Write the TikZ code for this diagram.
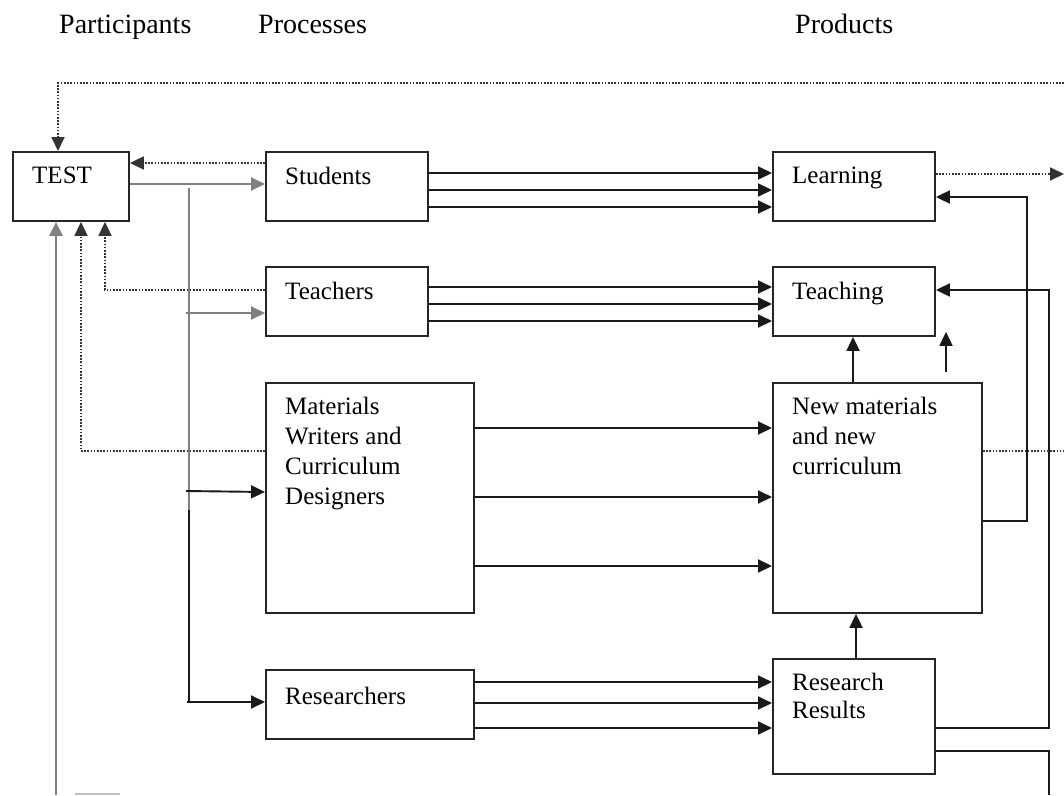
\documentclass[tikz,border=0pt]{standalone}
\usepackage{fontspec}
\setmainfont{Liberation Serif}
\usetikzlibrary{arrows.meta}
\begin{document}
\begin{tikzpicture}[x=1pt,y=-1pt,
  box/.style={draw=black!85, line width=1.9pt, inner sep=0pt, anchor=north west, rectangle},
  txt/.style={anchor=north west, inner sep=0pt, xshift=20pt, yshift=-16pt, align=left,
    font=\fontsize{25}{30}\selectfont},
  hdr/.style={anchor=base west, inner sep=0pt, font=\fontsize{28}{30}\selectfont},
  tip/.style={-{Triangle[length=14pt,width=13pt]}},
  link/.style={tip, line width=1.9pt, draw=black!90},
  greylink/.style={tip, line width=2.1pt, draw=black!50},
  feedback/.style={tip, line width=1.8pt, draw=black!80, dash pattern=on 1.6pt off 1.6pt},
  plain/.style={line width=1.9pt, draw=black!90}
]
\useasboundingbox (0,0) rectangle (1064,795);
\fill[white] (0,0) rectangle (1064,795);

% column headings
\node[hdr] (hpart) at (59,33) {Participants};
\node[hdr] (hproc) at (258,33) {Processes};
\node[hdr] (hprod) at (795,33) {Products};

% participant and product boxes
\node[box, minimum width=116pt, minimum height=69pt, label={[txt]north west:TEST}] (test) at (12,151) {};
\node[box, minimum width=162pt, minimum height=69pt, label={[txt]north west:Students}] (stud) at (265,151) {};
\node[box, minimum width=162pt, minimum height=69pt, label={[txt]north west:Teachers}] (teach) at (265,266) {};
\node[box, minimum width=208pt, minimum height=230pt,
  label={[txt, yshift=1pt]north west:{Materials\\Writers and\\Curriculum\\Designers}}] (mat) at (265,382) {};
\node[box, minimum width=208pt, minimum height=69pt, label={[txt, yshift=-2pt]north west:Researchers}] (res) at (265,669) {};
\node[box, minimum width=162pt, minimum height=69pt, label={[txt]north west:Learning}] (learn) at (772,151) {};
\node[box, minimum width=162pt, minimum height=69pt, label={[txt]north west:Teaching}] (teaching) at (772,266) {};
\node[box, minimum width=209pt, minimum height=230pt,
  label={[txt, yshift=1pt]north west:{New materials\\and new\\curriculum}}] (newmat) at (772,382) {};
\node[box, minimum width=162pt, minimum height=115pt,
  label={[txt, yshift=1pt, font=\fontsize{25}{28}\selectfont]north west:{Research\\Results}}] (rr) at (772,658) {};

% free ends at the picture's border
\coordinate (topR) at (1064,83);
\coordinate (learnR) at (1064,174);
\coordinate (newR) at (1064,451);
\coordinate (rrBot) at (1049,795);
\coordinate (botL) at (56,795);
\coordinate (floatUp) at (946,372);

% processes to products
\foreach \yy in {173,190,207} \draw[link] (stud.east |- 0,\yy) -- (learn.west |- 0,\yy);
\foreach \yy in {287,304,321} \draw[link] (teach.east |- 0,\yy) -- (teaching.west |- 0,\yy);
\foreach \yy in {428,497,566} \draw[link] (mat.east |- 0,\yy) -- (newmat.west |- 0,\yy);
\foreach \yy in {682,703,728} \draw[link] (res.east |- 0,\yy) -- (rr.west |- 0,\yy);

% between the products
\draw[link] (newmat.north -| 853,0) -- (teaching.south -| 853,0);
\draw[link, shorten >=-5pt] (floatUp) -- (teaching.south -| floatUp);
\draw[link] (rr.north -| 856,0) -- (newmat.south -| 856,0);
\draw[link] (newmat.east |- 0,521) -| (1027,197) -- (learn.east |- 0,197);
\draw[link] (rr.east |- 0,728) -| (1049,290) -- (teaching.east |- 0,290);
\draw[plain] (rr.east |- 0,751) -| (rrBot);

% feedback lines
\draw[feedback] (learn.east |- 0,174) -- (learnR);
\draw[feedback] (topR) -- (58,83) -- (test.north -| 58,0);
\draw[feedback, -] (newmat.east |- 0,451) -- (newR);
\draw[feedback] (stud.west |- 0,163) -- (test.east |- 0,163);
\draw[feedback] (teach.west |- 0,290) -| (test.south -| 105,0);
\draw[feedback] (mat.west |- 0,451) -| (test.south -| 81,0);

% from the test to the participants
\draw[greylink] (test.east |- 0,184) -- (stud.west |- 0,184);
\draw[greylink, line width=2.6pt] (botL) -- (test.south -| botL);
\draw[line width=2.1pt, draw=black!50] (189,188) -- (189,510);
\draw[plain] (189,510) -- (189,703);
\draw[greylink] (186,313) -- (teach.west |- 0,313);
\draw[link] (186,491) -- (mat.west |- 0,492);
\draw[link] (187,702) -- (res.west |- 0,702);
\draw[line width=1.5pt, draw=black!25] (75,794) -- (120,794);
\end{tikzpicture}
\end{document}
